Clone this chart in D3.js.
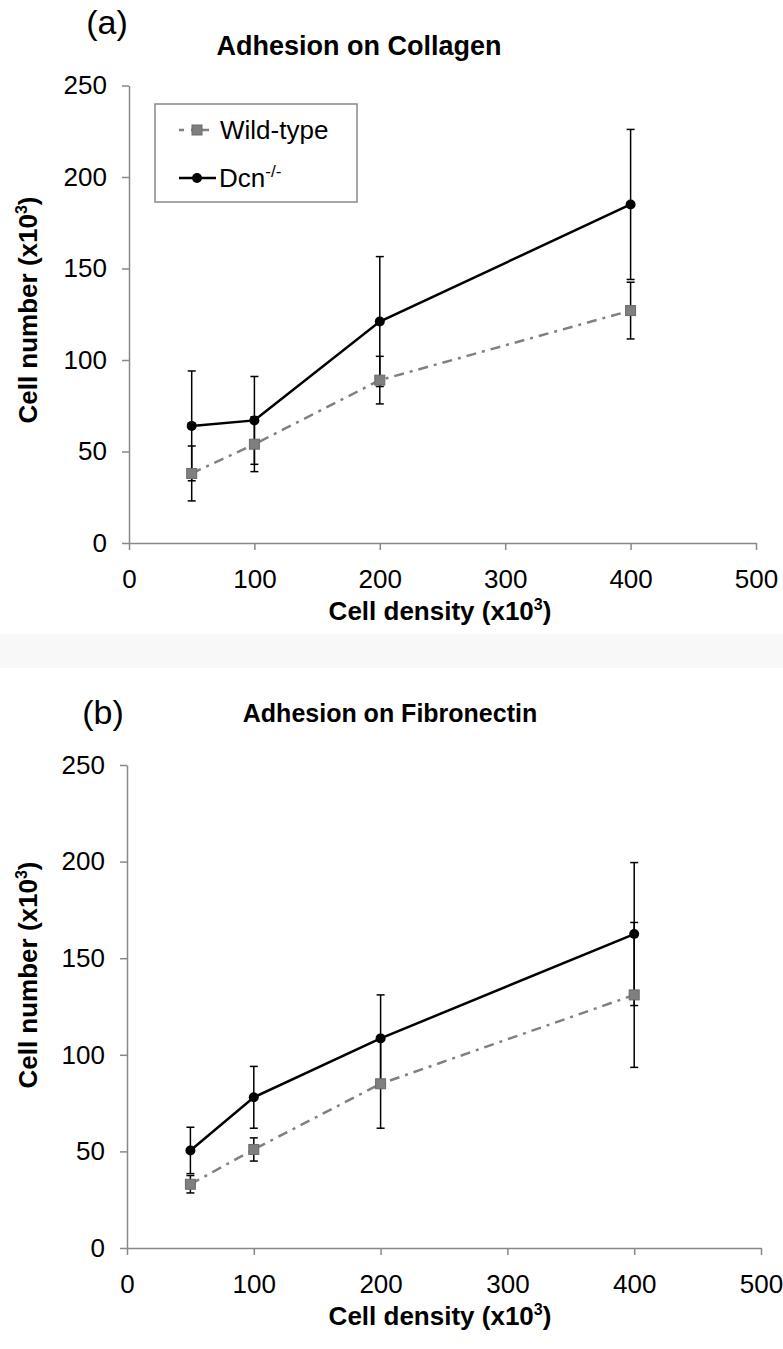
<!DOCTYPE html>
<html>
<head>
<meta charset="utf-8">
<script src="https://cdn.jsdelivr.net/npm/d3@7"></script>
<style>
  body { margin: 0; background: #fff; }
  svg { display: block; font-family: "Liberation Sans", Arial, sans-serif; }
</style>
</head>
<body>
<div id="chart"></div>
<script>

// cell density (x10^3) seeded
var densities = [50, 100, 200, 400]

// (a) collagen
var wtCollagen = [38, 54, 89, 127]
var wtCollagenErr = [15, 15, 13, 15.5]
var dcnCollagen = [64, 67, 121, 185]
var dcnCollagenErr = [30, 24, 35.5, 41]

// (b) fibronectin
var wtFibronectin = [33, 51, 85, 131]
var wtFibronectinErr = [4.5, 6, 23, 37.5]
var dcnFibronectin = [50.5, 78, 108.5, 162.5]
var dcnFibronectinErr = [12, 16, 22.5, 37]

var xTicks = [0, 100, 200, 300, 400, 500]
var yTicks = [0, 50, 100, 150, 200, 250]

var svg = d3.select('#chart')
    .append('svg')
        .attr('width', 783)
        .attr('height', 1349)

// faint band between the two panels
svg.append('rect')
    .attr('x', 0).attr('y', 634)
    .attr('width', 783).attr('height', 34)
    .style('fill', '#f8f8f8')

function drawPanel(opts) {
    var x = d3.scaleLinear().domain([0, 500]).range([opts.left, opts.right])
    var y = d3.scaleLinear().domain([0, 250]).range([opts.bottom, opts.top])

    var g = svg.append('g')

    // panel letter + title
    g.append('text')
        .attr('x', opts.letterX).attr('y', opts.letterY)
        .attr('text-anchor', 'middle')
        .style('font-size', '34px')
        .text(opts.letter)

    g.append('text')
        .attr('x', opts.titleX).attr('y', opts.titleY)
        .attr('text-anchor', 'middle')
        .style('font-size', opts.titleSize)
        .style('font-weight', 'bold')
        .text(opts.title)

    // axes
    var yAxis = g.append('g')
        .attr('transform', 'translate(' + opts.left + ',0)')
        .call(d3.axisLeft(y).tickValues(yTicks).tickSize(7).tickSizeOuter(0).tickPadding(15))
    var xAxis = g.append('g')
        .attr('transform', 'translate(0,' + opts.bottom + ')')
        .call(d3.axisBottom(x).tickValues(xTicks).tickSize(7).tickSizeOuter(0).tickPadding(20))

    ;[yAxis, xAxis].forEach(function(ax) {
        ax.select('.domain').style('stroke', '#888').style('stroke-width', 1.5)
        ax.selectAll('.tick line').style('stroke', '#888').style('stroke-width', 1.5)
        ax.selectAll('.tick text')
            .style('font-size', '26px')
            .style('fill', '#000')
            .style('font-family', '"Liberation Sans", Arial, sans-serif')
    })

    // axis titles
    var xl = g.append('text')
        .attr('x', opts.xLabelX).attr('y', opts.xLabelY)
        .attr('text-anchor', 'middle')
        .style('font-size', '26px')
        .style('font-weight', 'bold')
    xl.append('tspan').text('Cell density (x10')
    xl.append('tspan').attr('dy', -10).style('font-size', '16px').text('3')
    xl.append('tspan').attr('dy', 10).text(')')

    var yl = g.append('text')
        .attr('transform', 'translate(' + opts.yLabelX + ',' + opts.yLabelY + ') rotate(-90)')
        .attr('text-anchor', 'middle')
        .style('font-size', '26px')
        .style('font-weight', 'bold')
    yl.append('tspan').text('Cell number (x10')
    yl.append('tspan').attr('dy', -10).style('font-size', '16px').text('3')
    yl.append('tspan').attr('dy', 10).text(')')

    var wt = densities.map(function(d, i) { return {x: d, y: opts.wt[i], e: opts.wtErr[i]} })
    var dcn = densities.map(function(d, i) { return {x: d, y: opts.dcn[i], e: opts.dcnErr[i]} })

    var line = d3.line()
        .x(function(d) { return x(d.x) })
        .y(function(d) { return y(d.y) })

    // wild-type line
    g.append('path')
        .datum(wt)
        .attr('d', line)
        .style('fill', 'none')
        .style('stroke', '#808080')
        .style('stroke-width', 2.5)
        .style('stroke-dasharray', '10,6,3,6')

    // error bars
    function errorBars(data) {
        var eb = g.append('g')
            .selectAll('g')
            .data(data)
            .enter()
            .append('g')
            .style('stroke', '#000')
            .style('stroke-width', 1.5)
        eb.append('line')
            .attr('x1', function(d) { return x(d.x) })
            .attr('x2', function(d) { return x(d.x) })
            .attr('y1', function(d) { return y(d.y + d.e) })
            .attr('y2', function(d) { return y(d.y - d.e) })
        eb.append('line')
            .attr('x1', function(d) { return x(d.x) - 4 })
            .attr('x2', function(d) { return x(d.x) + 4 })
            .attr('y1', function(d) { return y(d.y + d.e) })
            .attr('y2', function(d) { return y(d.y + d.e) })
        eb.append('line')
            .attr('x1', function(d) { return x(d.x) - 4 })
            .attr('x2', function(d) { return x(d.x) + 4 })
            .attr('y1', function(d) { return y(d.y - d.e) })
            .attr('y2', function(d) { return y(d.y - d.e) })
    }
    errorBars(wt)
    errorBars(dcn)

    g.append('g')
        .selectAll('rect')
        .data(wt)
        .enter()
        .append('rect')
        .attr('x', function(d) { return x(d.x) - 5 })
        .attr('y', function(d) { return y(d.y) - 5 })
        .attr('width', 10)
        .attr('height', 10)
        .style('fill', '#7f7f7f')
        .style('stroke', '#6a6a6a')
        .style('stroke-width', 1)

    // Dcn-/- line
    g.append('path')
        .datum(dcn)
        .attr('d', line)
        .style('fill', 'none')
        .style('stroke', '#000')
        .style('stroke-width', 2.5)

    g.append('g')
        .selectAll('circle')
        .data(dcn)
        .enter()
        .append('circle')
        .attr('cx', function(d) { return x(d.x) })
        .attr('cy', function(d) { return y(d.y) })
        .attr('r', 5)
        .style('fill', '#000')
}

drawPanel({
    left: 129, right: 756, top: 85.5, bottom: 543,
    letter: '(a)', letterX: 107, letterY: 34,
    title: 'Adhesion on Collagen', titleSize: '27px', titleX: 359, titleY: 55,
    xLabelX: 440, xLabelY: 620, yLabelX: 37, yLabelY: 310,
    wt: wtCollagen, wtErr: wtCollagenErr,
    dcn: dcnCollagen, dcnErr: dcnCollagenErr
})

drawPanel({
    left: 127, right: 761, top: 765, bottom: 1248,
    letter: '(b)', letterX: 103, letterY: 724,
    title: 'Adhesion on Fibronectin', titleSize: '25px', titleX: 390, titleY: 722,
    xLabelX: 440, xLabelY: 1325, yLabelX: 37, yLabelY: 975,
    wt: wtFibronectin, wtErr: wtFibronectinErr,
    dcn: dcnFibronectin, dcnErr: dcnFibronectinErr
})

// legend (panel a)
var legend = svg.append('g')
legend.append('rect')
    .attr('x', 155).attr('y', 104)
    .attr('width', 202).attr('height', 98)
    .style('fill', '#fff')
    .style('stroke', '#888')
    .style('stroke-width', 1.5)

legend.append('line')
    .attr('x1', 179).attr('x2', 209).attr('y1', 130).attr('y2', 130)
    .style('stroke', '#808080').style('stroke-width', 2.5)
    .style('stroke-dasharray', '5,7,18')
legend.append('rect')
    .attr('x', 192).attr('y', 125).attr('width', 10).attr('height', 10)
    .style('fill', '#7f7f7f').style('stroke', '#6a6a6a')
legend.append('text')
    .attr('x', 220).attr('y', 139)
    .style('font-size', '26px')
    .text('Wild-type')

legend.append('line')
    .attr('x1', 179).attr('x2', 216).attr('y1', 178).attr('y2', 178)
    .style('stroke', '#000').style('stroke-width', 2.5)
legend.append('circle')
    .attr('cx', 197).attr('cy', 178).attr('r', 5)
    .style('fill', '#000')
var dl = legend.append('text')
    .attr('x', 219).attr('y', 187)
    .style('font-size', '26px')
dl.append('tspan').text('Dcn')
dl.append('tspan').attr('dy', -10).style('font-size', '17px').text('-/-')

</script>
</body>
</html>
